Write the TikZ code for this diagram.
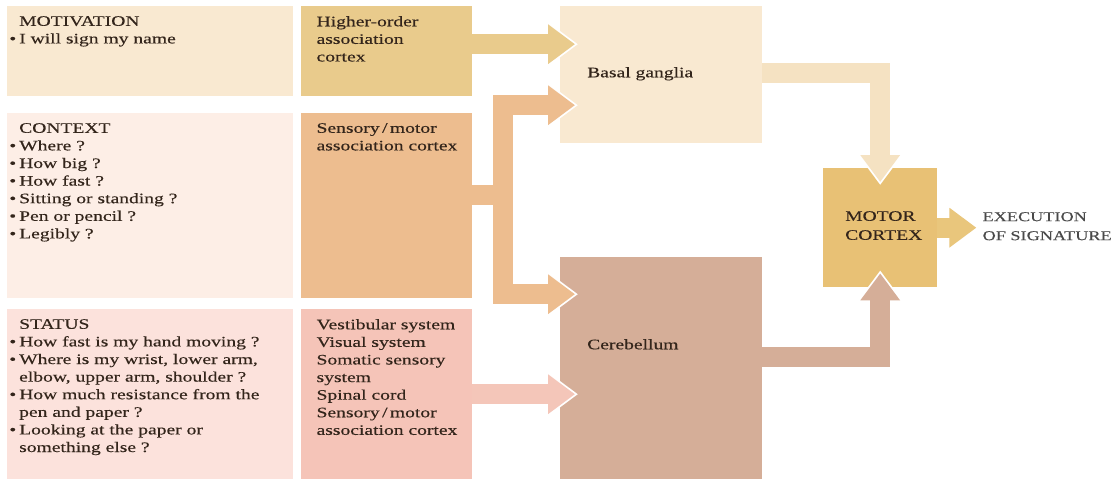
\documentclass[tikz,border=0pt]{standalone}
\usepackage{fontspec}
\setmainfont{Liberation Serif}[FakeStretch=1.35,FakeBold=0.3]
\usetikzlibrary{arrows.meta,positioning}

\definecolor{txt}{HTML}{33251B}
\definecolor{exectxt}{HTML}{4A4A4A}
\definecolor{motivfill}{HTML}{F9E9D1}
\definecolor{hoafill}{HTML}{E9CB8C}
\definecolor{ctxfill}{HTML}{FDEEE6}
\definecolor{smafill}{HTML}{EDBD8F}
\definecolor{statfill}{HTML}{FCE2DC}
\definecolor{sensfill}{HTML}{F5C4B8}
\definecolor{bgfill}{HTML}{F9E9D1}
\definecolor{bgarrow}{HTML}{F5E2C2}
\definecolor{cbfill}{HTML}{D5AE98}
\definecolor{mcfill}{HTML}{E8C175}
\definecolor{execarrow}{HTML}{E9C67C}
\definecolor{statarrow}{HTML}{F4C6B9}

\newcommand{\itm}{\llap{\textbullet\hspace{3pt}}}

\begin{document}
\begin{tikzpicture}[x=1pt,y=-1pt,
    font=\fontsize{14.5}{17.6}\selectfont, text=txt,
    box/.style={rectangle, inner sep=0pt, anchor=north west, fill=#1},
    txtblock/.style={anchor=north west, inner sep=0pt, align=left},
    flowline/.style={line width=20pt, draw=#1},
    flow/.style={line width=20pt, draw=#1, -{Triangle[length=27pt,width=38pt]},
      preaction={draw=white, -{Triangle[length=32pt,width=45pt]}, shorten >=-3pt}},
    flowboth/.style={line width=20pt, draw=#1,
      {Triangle[length=27pt,width=38pt]}-{Triangle[length=27pt,width=38pt]},
      preaction={draw=white, {Triangle[length=32pt,width=45pt]}-{Triangle[length=32pt,width=45pt]},
        shorten >=-3pt, shorten <=-3pt}}]

  \useasboundingbox (0,0) rectangle (1117,479);

  % input boxes
  \node[box=motivfill, minimum width=286pt, minimum height=90pt]  (motiv) at (7,6) {};
  \node[box=hoafill,   minimum width=171pt, minimum height=90pt,  right=7pt of motiv] (hoa) {};
  \node[box=ctxfill,   minimum width=286pt, minimum height=185pt] (ctx) at (7,113) {};
  \node[box=smafill,   minimum width=171pt, minimum height=185pt, right=7pt of ctx] (sma) {};
  \node[box=statfill,  minimum width=286pt, minimum height=170pt] (stat) at (7,309) {};
  \node[box=sensfill,  minimum width=171pt, minimum height=170pt, right=7pt of stat] (sens) {};

  % brain boxes
  \node[box=bgfill, minimum width=202pt, minimum height=137pt] (bg) at (560,6) {};
  \node[box=cbfill, minimum width=202pt, minimum height=222pt] (cb) at (560,257) {};
  \node[box=mcfill, minimum width=114pt, minimum height=119pt] (mc) at (823,168) {};

  % texts
  \node[txtblock] (motivtxt) at ([shift={(12pt,-10pt)}]motiv.north west)
    {MOTIVATION\\ \itm I will sign my name};
  \node[txtblock] (ctxtxt) at ([shift={(12pt,-10pt)}]ctx.north west)
    {CONTEXT\\ \itm Where ?\\ \itm How big ?\\ \itm How fast ?\\
     \itm Sitting or standing ?\\ \itm Pen or pencil ?\\ \itm Legibly ?};
  \node[txtblock] (stattxt) at ([shift={(12pt,-10pt)}]stat.north west)
    {STATUS\\ \itm How fast is my hand moving ?\\ \itm Where is my wrist, lower arm,\\
     elbow, upper arm, shoulder ?\\ \itm How much resistance from the\\ pen and paper ?\\
     \itm Looking at the paper or\\ something else ?};
  \node[txtblock] (hoatxt) at ([shift={(16pt,-10pt)}]hoa.north west)
    {Higher-order\\ association\\ cortex};
  \node[txtblock] (smatxt) at ([shift={(16pt,-10pt)}]sma.north west)
    {Sensory\,/\,motor\\ association cortex};
  \node[txtblock] (senstxt) at ([shift={(16pt,-10pt)}]sens.north west)
    {Vestibular system\\ Visual system\\ Somatic sensory\\ system\\ Spinal cord\\
     Sensory\,/\,motor\\ association cortex};
  \node[txtblock] (bgtxt) at ([shift={(27pt,-61pt)}]bg.north west) {Basal ganglia};
  \node[txtblock] (cbtxt) at ([shift={(27pt,-82pt)}]cb.north west) {Cerebellum};
  \node[txtblock, font=\fontsize{14.5}{19}\selectfont] (mctxt)
    at ([shift={(22pt,-43pt)}]mc.north west) {MOTOR\\ CORTEX};
  \node[txtblock, text=exectxt, font=\fontsize{13.5}{19}\selectfont] (exec)
    at ([shift={(45pt,-44pt)}]mc.north east) {EXECUTION\\ OF SIGNATURE};

  % arrows
  \coordinate (bgin) at ([xshift=15pt]bg.west);
  \coordinate (cbin) at ([xshift=15pt]cb.west);
  \coordinate (fork) at ([shift={(31pt,11pt)}]sma.east);

  \draw[flow=hoafill] ([yshift=7pt]hoa.east) -- ([yshift=7pt]hoa.east -| bgin);
  \draw[flowline=smafill] (sma.east |- fork) -- (fork);
  \draw[flowboth=smafill] ([yshift=-30.5pt]bgin) -| (fork) |- ([yshift=74pt]cbin);
  \draw[flow=statarrow] (sens.east) -- (sens.east -| cbin);
  \draw[flow=bgarrow] ([yshift=1.5pt]bg.east) -| ([yshift=-14pt]mc.north);
  \draw[flow=cbfill] ([yshift=11pt]cb.east) -| ([yshift=14pt]mc.south);
  \draw[flow=execarrow] (mc.east) -- ([xshift=-6pt]mc.east -| exec.west);

\end{tikzpicture}
\end{document}
